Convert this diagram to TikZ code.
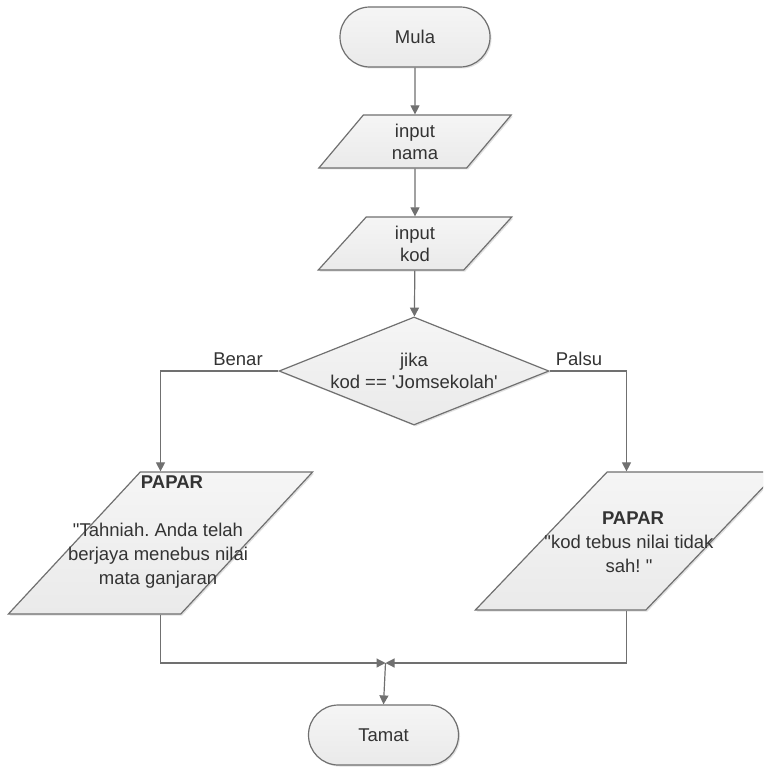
\documentclass[tikz,border=0pt]{standalone}
\usepackage{fontspec}
\newfontfamily\arial{Liberation Sans}
\usetikzlibrary{shapes.geometric,arrows.meta,shadows}
\definecolor{lin}{HTML}{707070}
\definecolor{txt}{HTML}{333333}
\definecolor{ftop}{HTML}{F5F5F5}
\definecolor{fbot}{HTML}{EAEAEA}
\tikzset{
  base/.style={draw=lin, line width=1.2pt, top color=ftop, bottom color=fbot,
    text=txt, font=\arial\fontsize{18.5}{22}\selectfont, align=center,
    drop shadow={shadow xshift=1.5pt, shadow yshift=-1.5pt, fill=black, opacity=.12}},
  term/.style={base, rectangle, rounded corners=29.9pt, minimum width=150pt, minimum height=60pt, inner sep=0pt},
  io/.style={base, trapezium, trapezium stretches=true, inner sep=2pt},
  decide/.style={base, diamond, aspect=2.5, minimum width=270pt, minimum height=108pt, inner sep=0pt},
  lbl/.style={text=txt, font=\arial\fontsize{18.5}{22}\selectfont, inner sep=0pt},
  txtblk/.style={text=txt, font=\arial\fontsize{18.5}{24}\selectfont, align=center, inner sep=0pt},
  conn/.style={draw=lin, line width=1.2pt, -{Triangle[width=9pt,length=9pt]}}
}
\begin{document}
\frenchspacing
\begin{tikzpicture}[x=1pt,y=-1pt]
\useasboundingbox (0,0) rectangle (763,767);
\clip (0,0) rectangle (763,767);
\fill[white] (0,0) rectangle (763,767);

\node[term] (mula) at (415,37) {Mula};
\node[io, trapezium left angle=61.3, trapezium right angle=118.7, minimum width=194pt, minimum height=53pt] (nama) at (415,141.5) {input\\nama};
\node[io, trapezium left angle=61.3, trapezium right angle=118.7, minimum width=194pt, minimum height=53pt] (kod) at (415,243.5) {input\\kod};
\node[decide] (jika) at (414,371) {jika\\kod == 'Jomsekolah'};
\node[io, trapezium left angle=63.4, trapezium right angle=116.6, minimum width=305pt, minimum height=142pt] (papar1) at (160.5,543) {\strut};
\node[io, trapezium left angle=62.4, trapezium right angle=117.6, minimum width=303pt, minimum height=138pt] (papar2) at (626.5,541) {\strut};
\node[term] (tamat) at (383.5,735) {Tamat};

\node[txtblk] (t1) at (158,532) {\hspace*{28pt}\textbf{PAPAR}\\[24pt]"Tahniah. Anda telah\\berjaya menebus nilai\\mata ganjaran};
\node[txtblk] (t2) at (629,542) {\hspace*{8pt}\textbf{PAPAR}\\"kod tebus nilai tidak\\sah! "};

\node[lbl] (benar) at (238,359) {Benar};
\node[lbl] (palsu) at (579,359) {Palsu};

\coordinate (j) at (385.5,663);

\draw[conn] (mula) -- (nama);
\draw[conn] (nama) -- (kod);
\draw[conn] (kod) -- (jika);
\draw[conn] (jika.west) -| (papar1.north);
\draw[conn] (jika.east) -| (papar2.north);
\draw[conn] (papar1.south) |- (j);
\draw[conn] (papar2.south) |- (j);
\draw[conn] (j) -- (tamat.north);
\end{tikzpicture}
\end{document}
